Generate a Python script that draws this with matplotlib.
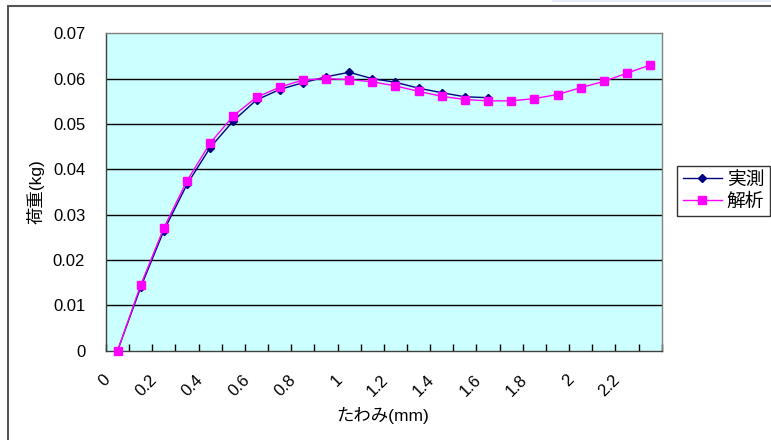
import matplotlib
matplotlib.use("Agg")
import matplotlib.pyplot as plt
from matplotlib.lines import Line2D
from matplotlib.patches import Rectangle
from matplotlib.transforms import ScaledTranslation
import numpy as np

plt.rcParams['font.family'] = ['Liberation Sans', 'Noto Sans CJK JP', 'DejaVu Sans']

# categories (deflection, mm)
deflection = [0.0, 0.1, 0.2, 0.3, 0.4, 0.5, 0.6, 0.7, 0.8, 0.9, 1.0, 1.1,
              1.2, 1.3, 1.4, 1.5, 1.6, 1.7, 1.8, 1.9, 2.0, 2.1, 2.2, 2.3]
# 実測 (measured) – available up to 1.6 mm
measured = [0.0, 0.0140, 0.0265, 0.0367, 0.0448, 0.0507, 0.0553, 0.0576,
            0.0591, 0.0604, 0.0614, 0.0600, 0.0592, 0.0579, 0.0569, 0.0560,
            0.0558]
# 解析 (analysis)
analysis = [0.0, 0.0145, 0.0271, 0.0375, 0.0458, 0.0518, 0.0559, 0.0581,
            0.0597, 0.0600, 0.0598, 0.0593, 0.0584, 0.0572, 0.0561, 0.0554,
            0.0551, 0.0551, 0.0556, 0.0565, 0.0580, 0.0594, 0.0612, 0.0630]
xtick_labels = ['0', '0.2', '0.4', '0.6', '0.8', '1', '1.2', '1.4', '1.6',
                '1.8', '2', '2.2']
yticks = [0, 0.01, 0.02, 0.03, 0.04, 0.05, 0.06, 0.07]
ytick_labels = ['0', '0.01', '0.02', '0.03', '0.04', '0.05', '0.06', '0.07']

W, H = 771, 440
fig = plt.figure(figsize=(W / 100, H / 100), dpi=100)
fig.patch.set_facecolor('white')

# chart-area border (left + top visible)
fig.add_artist(Line2D([8 / W, 8 / W], [0, 1 - 6.5 / H], transform=fig.transFigure,
                      color='#333333', lw=1.2))
fig.add_artist(Line2D([8 / W, 1], [1 - 6.5 / H, 1 - 6.5 / H], transform=fig.transFigure,
                      color='#555555', lw=1.5))
fig.add_artist(Rectangle((552 / W, 1 - 2 / H), (W - 552) / W, 2 / H,
                         transform=fig.transFigure, color='#E6ECFA', lw=0))

left, right = 106 / W, 661.7 / W
bottom, top = 1 - 350.7 / H, 1 - 33.3 / H
ax = fig.add_axes([left, bottom, right - left, top - bottom])
ax.set_facecolor('#CCFFFF')

n = len(deflection)
xs = np.arange(n)
ax.set_xlim(-0.5, n - 0.5)
ax.set_ylim(0, 0.07)

for yv in yticks[1:-1]:
    ax.axhline(yv, color='black', lw=1.0, zorder=1)

ax.plot(xs[:len(measured)], measured, color='#000080', lw=1.0, marker='D',
        markersize=3.8, markerfacecolor='#000080', markeredgecolor='#000080',
        label='実測', zorder=3)
ax.plot(xs, analysis, color='#FF00FF', lw=1.0, marker='s', markersize=5.2,
        markerfacecolor='#FF00FF', markeredgecolor='#FF00FF', label='解析',
        zorder=4, clip_on=False)

ax.set_yticks(yticks)
ax.set_yticklabels(ytick_labels, fontsize=12)
ax.tick_params(axis='y', length=0, pad=15)

major_pos = [int(round(float(l) * 10)) for l in xtick_labels]
ax.set_xticks(major_pos)
ax.set_xticklabels(xtick_labels, fontsize=12, rotation=45, ha='right',
                   va='center', rotation_mode='anchor')
ax.tick_params(axis='x', which='major', length=0, pad=19)
shift = ScaledTranslation(-0.095, 0, fig.dpi_scale_trans)
for lab in ax.get_xticklabels():
    lab.set_transform(lab.get_transform() + shift)
ax.set_xticks(np.arange(-0.5, n, 1.0), minor=True)
ax.tick_params(axis='x', which='minor', direction='in', length=5, color='black',
               width=1.0)

for s in ['top', 'right']:
    ax.spines[s].set_color('#808080')
    ax.spines[s].set_linewidth(1.0)
for s in ['left', 'bottom']:
    ax.spines[s].set_color('#404040')
    ax.spines[s].set_linewidth(1.0)

ax.set_ylabel('荷重(kg)', fontsize=12.5)
ax.yaxis.set_label_coords(-0.111, 0.50)
ax.set_xlabel('たわみ(mm)', fontsize=12.5)
ax.xaxis.set_label_coords(0.498, -0.176)

leg = fig.legend(loc='upper left', bbox_to_anchor=(677 / W, 1 - 166 / H),
                 fontsize=13.5, frameon=True, fancybox=False, borderpad=0.3,
                 handlelength=2.1, handletextpad=0.25, labelspacing=0.25,
                 borderaxespad=0)
leg.get_frame().set_edgecolor('black')
leg.get_frame().set_linewidth(1.0)

fig.savefig('out.png', dpi=100)
